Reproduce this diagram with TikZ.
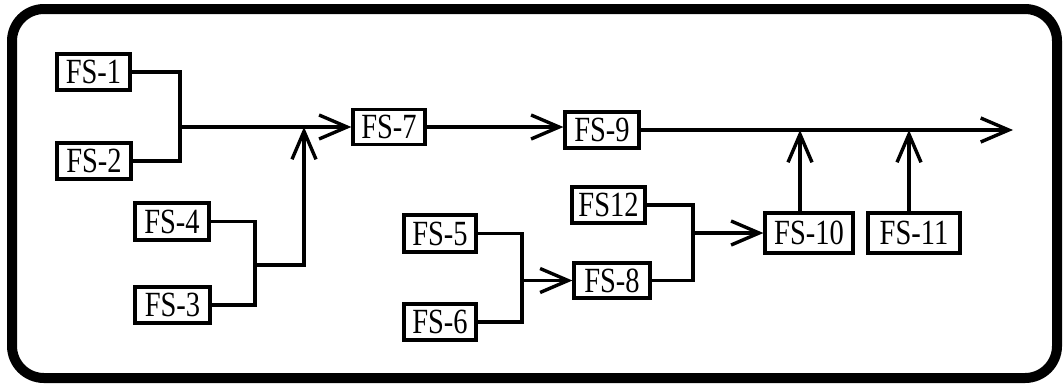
\documentclass[tikz,border=0pt]{standalone}
\usepackage{fontspec}
\setmainfont{Liberation Serif}
\usetikzlibrary{arrows.meta}
\newcommand\fslab[1]{\scalebox{0.95}[1.18]{#1}}
\begin{document}
\begin{tikzpicture}[x=1pt,y=-1pt,
  fsbox/.style={draw,line width=3.2pt,rectangle,inner sep=1pt,minimum width=74pt,minimum height=36pt,font=\fontsize{30}{30}\selectfont},
  conn/.style={line width=3.4pt},
  arr/.style={conn,-{Straight Barb[length=28pt,width=24pt,line width=3.4pt]}}]
\useasboundingbox (0,0) rectangle (1064,386);
\draw[line width=10pt,rounded corners=32pt] (12,9) rectangle (1057,378);
% nodes
\node[fsbox,minimum width=73pt] (FS1) at (93.5,72) {\fslab{FS-1}};
\node[fsbox] (FS2) at (94,161) {\fslab{FS-2}};
\node[fsbox,minimum height=37pt] (FS4) at (172,221.5) {\fslab{FS-4}};
\node[fsbox,minimum width=75pt] (FS3) at (172.5,305) {\fslab{FS-3}};
\node[fsbox,minimum width=72pt,minimum height=35pt] (FS7) at (389,127) {\fslab{FS-7}};
\node[fsbox] (FS9) at (602,130) {\fslab{FS-9}};
\node[fsbox,minimum width=73pt] (FS12) at (608.5,205) {\fslab{FS12}};
\node[fsbox,minimum width=72pt,minimum height=37pt] (FS5) at (440,233.5) {\fslab{FS-5}};
\node[fsbox,minimum width=72pt] (FS6) at (440,322) {\fslab{FS-6}};
\node[fsbox,minimum width=76pt,minimum height=35pt] (FS8) at (612,280.5) {\fslab{FS-8}};
\node[fsbox,minimum width=88pt,minimum height=40pt] (FS10) at (809,233) {\fslab{FS-10}};
\node[fsbox,minimum width=92pt,minimum height=40pt] (FS11) at (914,233) {\fslab{FS-11}};
% junction coordinates
\coordinate (j1) at (180,127);
\coordinate (j2) at (255,265);
\coordinate (k1) at (304,265);
\coordinate (k1t) at (304,127);
\coordinate (j3) at (522,280.5);
\coordinate (j4) at (693,233);
\coordinate (out) at (1013,130);
\coordinate (u10) at (800,130);
\coordinate (u11) at (909,130);
\coordinate (b10) at (800,213);
\coordinate (b11) at (909,213);
% connectors
\draw[conn] (FS1.east) -| (j1) |- (FS2.east);
\draw[arr] (j1) -- (FS7.west);
\draw[conn] (FS4.east) -| (j2) |- (FS3.east);
\draw[arr] (j2) -- (k1) -- (k1t);
\draw[arr] (FS7.east) -- (FS7.east -| FS9.west);
\draw[arr] (FS9.east) -- (out);
\draw[arr] (b10) -- (u10);
\draw[arr] (b11) -- (u11);
\draw[conn] (FS5.east) -| (j3) |- (FS6.east);
\draw[arr] (j3) -- (FS8.west);
\draw[conn] (FS12.east) -| (j4) |- (FS8.east);
\draw[arr] (j4) -- (FS10.west);
\end{tikzpicture}
\end{document}
